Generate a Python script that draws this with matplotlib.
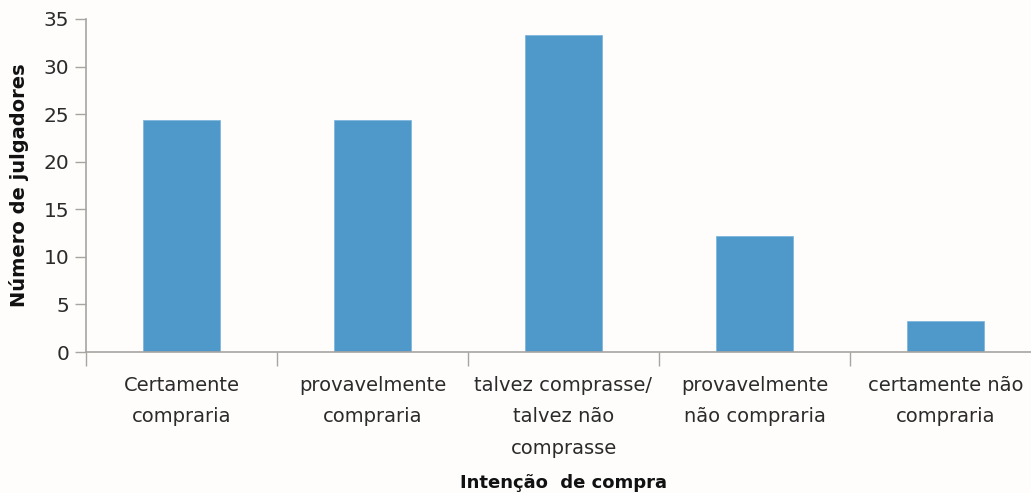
import numpy as np
import matplotlib
matplotlib.use("Agg")
import matplotlib.pyplot as plt
from matplotlib import font_manager

categories = [
    "Certamente\ncompraria",
    "provavelmente\ncompraria",
    "talvez comprasse/\ntalvez não\ncomprasse",
    "provavelmente\nnão compraria",
    "certamente não\ncompraria",
]
values = [24.4, 24.4, 33.3, 12.2, 3.3]
yticks = [0, 5, 10, 15, 20, 25, 30, 35]

barColor = "#4F98CA"
axisColor = "#A8A4A0"
textColor = "#2b2b2b"

names = {f.name for f in font_manager.fontManager.ttflist}
narrow = "Liberation Sans Narrow" if "Liberation Sans Narrow" in names else "DejaVu Sans"

fig = plt.figure(figsize=(10.31, 4.93), dpi=100, facecolor="#FEFDFC")
ax = fig.add_axes([86 / 1031, 1 - 352 / 493, 955 / 1031, 333 / 493])
ax.set_facecolor("#FEFDFC")

x = np.arange(len(values))
ax.bar(x, values, width=0.40, color=barColor, edgecolor="#7FB6DE", linewidth=0.6, zorder=2)

ax.set_xlim(-0.5, len(values) - 0.5)
ax.set_ylim(0, 35)
ax.set_yticks(yticks)
ax.tick_params(axis="y", direction="out", length=8, width=1, color=axisColor,
               labelsize=14.5, labelcolor=textColor, pad=4)

# category boundaries as major ticks, labels on minor ticks
ax.set_xticks(np.arange(len(values) + 1) - 0.5)
ax.set_xticklabels([])
ax.set_xticks(x, minor=True)
ax.set_xticklabels(categories, minor=True, fontfamily=narrow, fontsize=14,
                   linespacing=1.85, color=textColor)
ax.tick_params(axis="x", which="major", direction="out", length=10, width=1, color=axisColor)
ax.tick_params(axis="x", which="minor", length=0, pad=17)

for s in ["top", "right"]:
    ax.spines[s].set_visible(False)
for s in ["left", "bottom"]:
    ax.spines[s].set_color(axisColor)
    ax.spines[s].set_linewidth(1.2)

ax.set_ylabel("Número de julgadores", fontsize=14, fontweight="bold", color="#111111")
ax.yaxis.set_label_coords(-0.06, 0.5)
fig.text(564 / 1031, 1 - 483 / 493, "Intenção  de compra", ha="center", va="center",
         fontsize=13, fontweight="bold", color="#111111")

fig.savefig("out.png", dpi=100, facecolor=fig.get_facecolor())
